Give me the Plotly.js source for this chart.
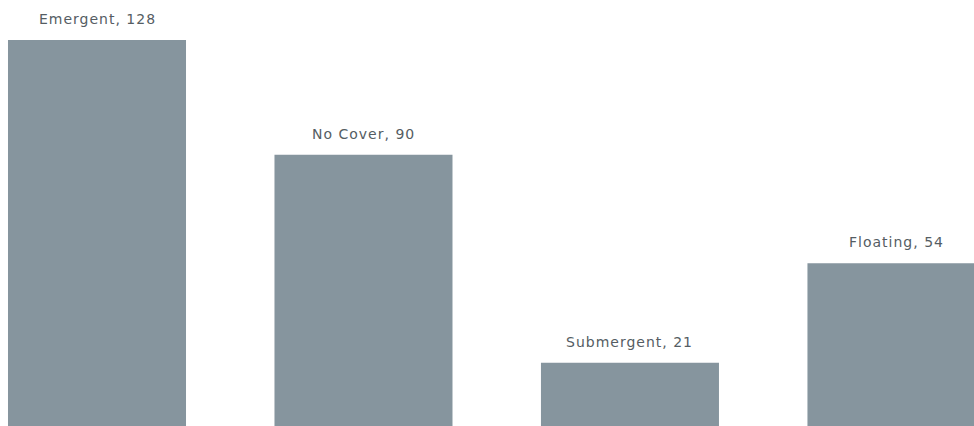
<!DOCTYPE html>
<html>
<head>
<meta charset="utf-8">
<script src="https://cdn.plot.ly/plotly-3.0.1.min.js"></script>
<style>
html,body{margin:0;padding:0;background:#fff;}
#chart{width:974px;height:426px;}
.annotation-text{letter-spacing:1px;}
</style>
</head>
<body>
<div id="chart"></div>
<script>
var categories = ["Emergent", "No Cover", "Submergent", "Floating"];
var counts = [128, 90, 21, 54];

var barColor = "#86959e";
var textColor = "#555d63";

var annotations = categories.map(function (c, i) {
  return {
    x: c, y: counts[i], xref: "x", yref: "y",
    text: c + ", " + counts[i],
    showarrow: false, yanchor: "bottom", yshift: 11,
    font: {family: "DejaVu Sans", size: 14, color: textColor}
  };
});

var data = [{
  type: "bar",
  x: categories,
  y: counts,
  marker: {color: barColor, line: {width: 0}},
  hoverinfo: "skip"
}];

var layout = {
  width: 974, height: 426,
  margin: {l: 0, r: 0, t: 0, b: 0, pad: 0},
  paper_bgcolor: "#ffffff", plot_bgcolor: "#ffffff",
  bargap: 0.332,
  showlegend: false,
  xaxis: {type: "category", range: [-0.364, 3.291], visible: false, fixedrange: true},
  yaxis: {range: [0, 141.3], visible: false, fixedrange: true},
  annotations: annotations
};

Plotly.newPlot("chart", data, layout, {displayModeBar: false, staticPlot: true});
</script>
</body>
</html>
